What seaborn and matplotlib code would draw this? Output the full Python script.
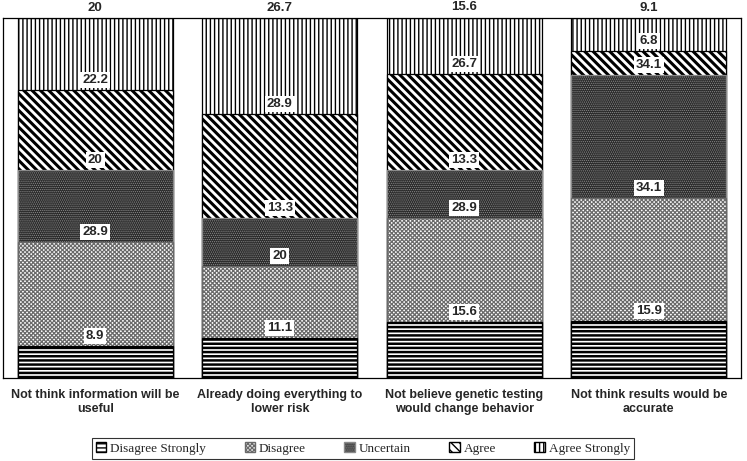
import numpy as np
import pandas as pd
import seaborn as sns
import matplotlib.pyplot as plt
from matplotlib.patches import Patch

categories = ["Not think information will be\nuseful",
              "Already doing everything to\nlower risk",
              "Not believe genetic testing\nwould change behavior",
              "Not think results would be\naccurate"]
levels = ["Disagree Strongly", "Disagree", "Uncertain", "Agree", "Agree Strongly"]

disagree_strongly = [8.9, 11.1, 15.6, 15.9]
disagree = [28.9, 20, 28.9, 34.1]
uncertain = [20, 13.3, 13.3, 34.1]
agree = [22.2, 28.9, 26.7, 6.8]
agree_strongly = [20, 26.7, 15.6, 9.1]

values = [disagree_strongly, disagree, uncertain, agree, agree_strongly]

# look of each response level (face, edge/hatch colour, hatch, hatch width)
styles = {
    "Disagree Strongly": ("white", "black", "----", 1.8),
    "Disagree": ("white", "#6a6a6a", "xxxxxxxx", 0.9),
    "Uncertain": ("#2a2a2a", "#8a8a8a", "........", 0.6),
    "Agree": ("white", "black", "\\\\\\\\", 2.2),
    "Agree Strongly": ("white", "black", "||||", 1.0),
}

sns.set_style("white")
plt.rcParams['font.family'] = ['Liberation Sans', 'DejaVu Sans']

fig, ax = plt.subplots(figsize=(7.47, 4.61), dpi=100)
fig.subplots_adjust(left=0.004, right=0.992, top=0.961, bottom=0.18)

cum = np.cumsum(np.array(values), axis=0)

# draw from the top layer down so the lower segments cover the taller bars
for i in reversed(range(len(levels))):
    fc, ec, hatch, hlw = styles[levels[i]]
    n_before = len(ax.patches)
    with plt.rc_context({'hatch.linewidth': hlw}):
        sns.barplot(x=categories, y=cum[i], color=fc, saturation=1, width=0.84,
                    edgecolor=ec, linewidth=0.9, hatch=hatch, errorbar=None, ax=ax)
    for p in ax.patches[n_before:]:
        if hasattr(p, "set_hatch_linewidth"):
            p.set_hatch_linewidth(hlw)

# value labels sit just above the top of each segment
for i, lev in enumerate(levels):
    for j in range(len(categories)):
        ax.annotate(f"{values[i][j]:g}", (j, cum[i][j]), xytext=(0, 3),
                    textcoords="offset points", ha="center", va="bottom",
                    fontsize=9.5, fontweight="bold",
                    bbox=dict(boxstyle="square,pad=0.15", fc="white", ec="none"),
                    annotation_clip=False)

ax.set_ylim(0, 100)
ax.set_xlim(-0.5, 3.5)
ax.set_yticks([])
ax.set_ylabel("")
ax.set_xticks(range(len(categories)))
ax.set_xticklabels(categories, fontsize=9, fontweight="bold")
ax.set_xticks([-0.5, 0.5, 1.5, 2.5, 3.5], minor=True)
ax.tick_params(axis="x", which="major", length=0, pad=8)
ax.tick_params(axis="x", which="minor", length=4, width=0.8, direction="out", color="black")
for s in ax.spines.values():
    s.set_color("black")
    s.set_linewidth(0.9)

handles = []
for lev in levels:
    fc, ec, hatch, hlw = styles[lev]
    handles.append(Patch(facecolor=fc, edgecolor=ec, hatch=hatch, label=lev))
leg = fig.legend(handles=handles, loc="center", bbox_to_anchor=(0.486, 0.027),
                 ncol=5, frameon=True, fancybox=False, edgecolor="black",
                 handlelength=0.8, handleheight=0.8, handletextpad=0.3,
                 columnspacing=2.9, borderpad=0.3,
                 prop={'family': 'Liberation Serif', 'size': 9.5})
leg.get_frame().set_linewidth(0.8)

fig.savefig("out.png", dpi=100)
